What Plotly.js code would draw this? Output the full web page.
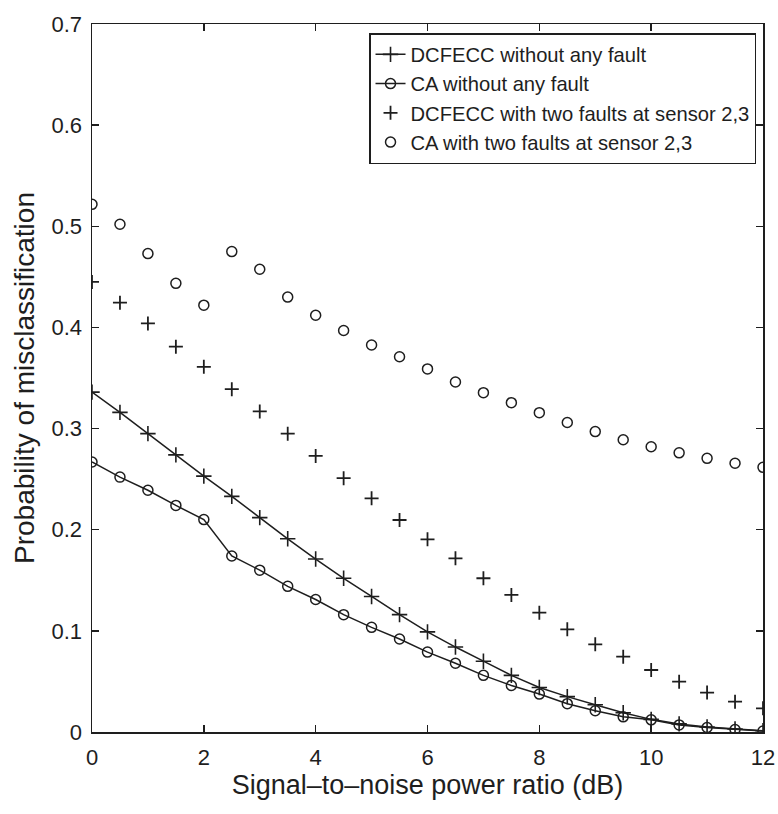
<!DOCTYPE html>
<html>
<head>
<meta charset="utf-8">
<script src="https://cdn.plot.ly/plotly-3.0.1.min.js"></script>
<style>html,body{margin:0;padding:0;background:#fff;}#chart{width:778px;height:814px;}</style>
</head>
<body>
<div id="chart"></div>
<script>
var snr = [0,0.5,1,1.5,2,2.5,3,3.5,4,4.5,5,5.5,6,6.5,7,7.5,8,8.5,9,9.5,10,10.5,11,11.5,12];
var dcfeccNoFault = [0.336,0.316,0.295,0.274,0.253,0.233,0.212,0.191,0.171,0.152,0.134,0.116,0.099,0.084,0.070,0.056,0.044,0.035,0.027,0.019,0.0125,0.008,0.005,0.003,0.0013];
var caNoFault = [0.267,0.252,0.239,0.224,0.210,0.174,0.160,0.144,0.131,0.116,0.1035,0.092,0.079,0.068,0.056,0.046,0.0375,0.028,0.021,0.015,0.012,0.007,0.0045,0.0025,0.001];
var dcfeccTwoFaults = [0.445,0.4245,0.404,0.381,0.361,0.339,0.317,0.295,0.273,0.251,0.231,0.2096,0.1905,0.1717,0.152,0.1355,0.118,0.1015,0.0867,0.0745,0.0613,0.0498,0.039,0.030,0.0234];
var caTwoFaults = [0.5217,0.502,0.473,0.4436,0.422,0.475,0.4575,0.430,0.412,0.397,0.3826,0.371,0.359,0.346,0.3355,0.3256,0.3157,0.306,0.297,0.289,0.282,0.276,0.2706,0.2657,0.2617];
var seriesNames = ["DCFECC without any fault","CA without any fault","DCFECC with two faults at sensor 2,3","CA with two faults at sensor 2,3"];
var xTicks = [0,2,4,6,8,10,12];
var yTicks = [0,0.1,0.2,0.3,0.4,0.5,0.6,0.7];
var yTickText = ["0","0.1","0.2","0.3","0.4","0.5","0.6","0.7"];

var ink = "#1e1e1e";
var traces = [
  {x: snr, y: dcfeccNoFault, name: seriesNames[0], mode: "lines+markers", type: "scatter",
   line: {color: ink, width: 1.5}, marker: {symbol: "cross-thin-open", size: 11, color: ink, line: {width: 1.6, color: ink}}},
  {x: snr, y: caNoFault, name: seriesNames[1], mode: "lines+markers", type: "scatter",
   line: {color: ink, width: 1.5}, marker: {symbol: "circle-open", size: 10, color: ink, line: {width: 1.5, color: ink}}},
  {x: snr, y: dcfeccTwoFaults, name: seriesNames[2], mode: "markers", type: "scatter",
   marker: {symbol: "cross-thin-open", size: 10, color: ink, line: {width: 1.8, color: ink}}},
  {x: snr, y: caTwoFaults, name: seriesNames[3], mode: "markers", type: "scatter",
   marker: {symbol: "circle-open", size: 10, color: ink, line: {width: 1.5, color: ink}}}
];

var fontFam = "Liberation Sans, Arial, sans-serif";
var layout = {
  width: 778, height: 814,
  margin: {l: 92, r: 15, t: 24, b: 82},
  paper_bgcolor: "#fff", plot_bgcolor: "#fff",
  font: {family: fontFam, color: ink, size: 22},
  showlegend: true,
  legend: {x: 0.9896, y: 0.987, xanchor: "right", yanchor: "top",
    bgcolor: "#fff", bordercolor: ink, borderwidth: 1.5,
    font: {family: fontFam, size: 20.2, color: ink}, tracegroupgap: 0},
  xaxis: {range: [0, 12], tickvals: xTicks, ticks: "inside", ticklen: 7, tickwidth: 1.5, tickcolor: ink,
    showline: true, linecolor: ink, linewidth: 1.5, mirror: "ticks", showgrid: false, zeroline: false,
    tickfont: {size: 22}, ticklabelstandoff: 5, automargin: "bottom",
    title: {text: "Signal\u2013to\u2013noise power ratio (dB)", font: {size: 27}, standoff: 2}},
  yaxis: {range: [0, 0.7], tickvals: yTicks, ticktext: yTickText, ticks: "inside", ticklen: 7, tickwidth: 1.5, tickcolor: ink,
    showline: true, linecolor: ink, linewidth: 1.5, mirror: "ticks", showgrid: false, zeroline: false,
    tickfont: {size: 22}, ticklabelstandoff: 4, automargin: "left",
    title: {text: "Probability of misclassification", font: {size: 28}, standoff: 8}}
};
Plotly.newPlot("chart", traces, layout, {displayModeBar: false, staticPlot: true});
</script>
</body>
</html>
